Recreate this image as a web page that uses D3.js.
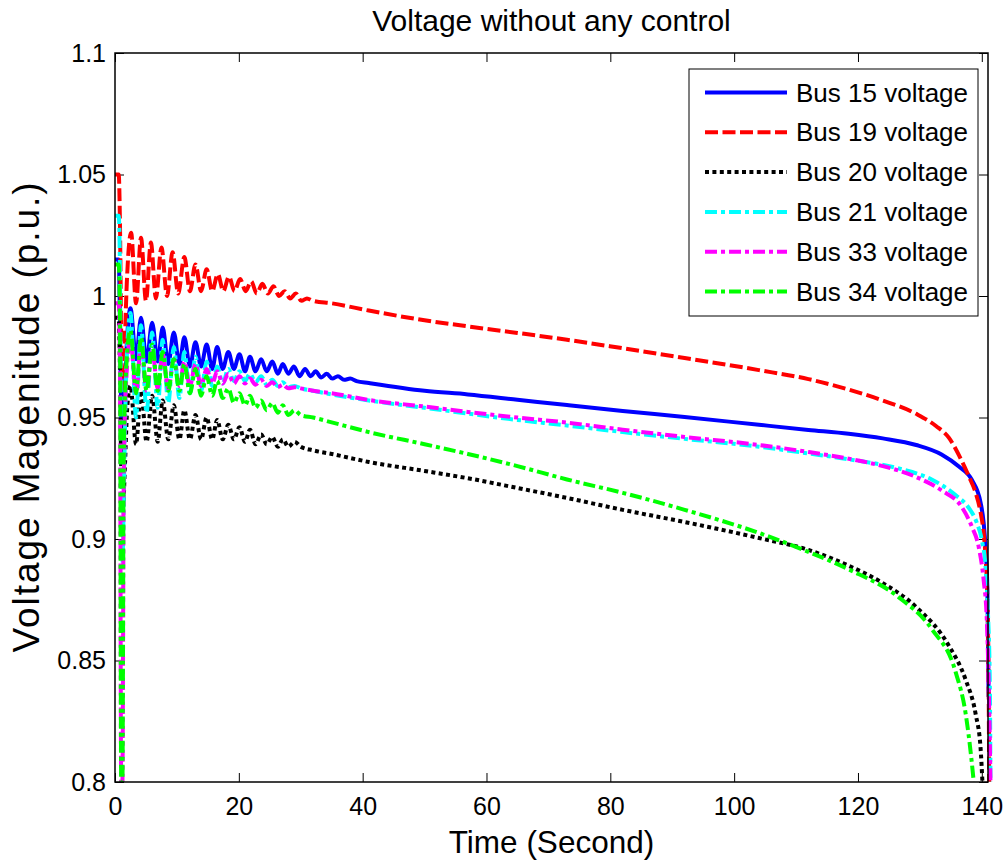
<!DOCTYPE html>
<html>
<head>
<meta charset="utf-8">
<script src="https://cdnjs.cloudflare.com/ajax/libs/d3/7.8.5/d3.min.js"></script>
<style>
  html, body { margin: 0; padding: 0; background: #ffffff; }
  svg { display: block; }
  text { font-family: "Liberation Sans", Arial, sans-serif; fill: #000; }
</style>
</head>
<body>
<div id="chart"></div>
<script>
// ---------------- DATA ----------------
const chartTitle = "Voltage without any control";
const xLabel = "Time (Second)";
const yLabel = "Voltage Magenitude (p.u.)";

const xTicks = [0, 20, 40, 60, 80, 100, 120, 140];
const xTickLabels = ["0", "20", "40", "60", "80", "100", "120", "140"];
const yTicks = [0.8, 0.85, 0.9, 0.95, 1, 1.05, 1.1];
const yTickLabels = ["0.8", "0.85", "0.9", "0.95", "1", "1.05", "1.1"];

const seriesNames = ["Bus 15 voltage", "Bus 19 voltage", "Bus 20 voltage",
                     "Bus 21 voltage", "Bus 33 voltage", "Bus 34 voltage"];

// [time (s), voltage (p.u.)]
const bus15 = [[0,1.015],[0.6,1.015],[0.8,0.99],[1.0,0.95],[1.2,0.935],[1.5,0.955],[1.9,0.980],
  [2.5,0.995],[3.4,0.974],[4.2,0.991],[5.1,0.973],[6.0,0.989],[6.9,0.973],[7.7,0.987],[8.6,0.972],
  [9.5,0.985],[10.4,0.972],[11.2,0.983],[12.1,0.971],[13.0,0.981],[13.9,0.971],[14.8,0.980],[15.7,0.970],
  [16.5,0.979],[17.4,0.970],[18.3,0.977],[19.2,0.970],[20.1,0.976],[21.0,0.969],[21.8,0.975],[22.7,0.969],
  [23.6,0.974],[24.5,0.969],[25.4,0.973],[26.3,0.968],[27.1,0.972],[28.0,0.968],[28.9,0.971],[29.8,0.967],
  [30.7,0.970],[31.6,0.967],[32.4,0.969],[33.3,0.9665],[34.2,0.968],[35.1,0.966],[36.0,0.967],[37.0,0.9655],
  [38,0.966],[39,0.965],[41,0.9642],[50,0.961],[57,0.9595],[65,0.9573],[73,0.9551],[82,0.9527],[92,0.9502],
  [104,0.947],[112,0.9449],[118.5,0.9433],[124,0.9414],[129.4,0.9387],[133.5,0.9348],[136.3,0.9298],
  [138.4,0.9243],[139.8,0.915],[140.3,0.9066],[140.6,0.8967],[140.9,0.879],[141.0,0.858],[141.1,0.835]];

const bus19 = [[0,1.050],[0.6,1.050],[0.8,1.030],[1.0,0.985],[1.2,0.962],[1.5,0.975],[1.9,1.005],
  [2.6,1.026],[3.4,0.997],[4.2,1.024],[5.0,0.998],[5.8,1.022],[6.6,0.999],[7.5,1.020],[8.4,1.000],
  [9.3,1.018],[10.2,1.001],[11.2,1.016],[12.1,1.002],[13.0,1.013],[13.9,1.002],[14.8,1.011],[15.7,1.002],
  [16.6,1.009],[17.5,1.002],[18.4,1.008],[19.3,1.002],[20.2,1.007],[21.1,1.002],[22.0,1.006],[22.9,1.001],
  [23.8,1.005],[24.7,1.001],[25.6,1.004],[26.5,1.000],[27.4,1.002],[28.3,0.999],[29.2,1.001],[30.1,0.998],
  [31.0,0.999],[32,0.998],[35,0.997],[41,0.994],[50,0.990],[57,0.9875],[65,0.9848],[73,0.982],[82,0.9785],
  [92,0.9745],[104,0.9695],[112,0.9658],[118.5,0.9615],[124,0.957],[129.4,0.9515],[132.6,0.9465],[134.7,0.9416],
  [136.3,0.9345],[137.9,0.9258],[139,0.919],[139.8,0.911],[140.3,0.9025],[140.6,0.893],[140.9,0.876],
  [141.1,0.84],[141.2,0.80]];

const bus20 = [[0,0.991],[0.6,0.991],[0.8,0.97],[1.0,0.93],[1.3,0.913],[1.6,0.93],[2.0,0.955],
  [2.5,0.963],[3.4,0.939],[4.2,0.961],[5.1,0.940],[6.0,0.959],[6.9,0.940],[7.7,0.957],[8.6,0.941],
  [9.5,0.955],[10.4,0.941],[11.2,0.953],[12.1,0.941],[13.0,0.951],[13.9,0.941],[14.8,0.950],[15.7,0.941],
  [16.5,0.949],[17.4,0.941],[18.3,0.947],[19.2,0.941],[20.1,0.946],[21.0,0.940],[21.8,0.945],[22.7,0.939],
  [23.6,0.943],[24.5,0.939],[25.4,0.942],[26.3,0.938],[27.1,0.941],[28.0,0.938],[29.0,0.940],[30,0.938],
  [32,0.9365],[35,0.935],[41,0.9317],[50,0.928],[57,0.925],[65,0.921],[73,0.9169],[82,0.912],[92,0.907],
  [104,0.9004],[112,0.8955],[118.5,0.889],[123.9,0.882],[129.4,0.872],[134.7,0.856],[137.4,0.842],
  [139,0.828],[139.8,0.814],[140.1,0.80]];

const bus21 = [[0,1.033],[0.6,1.033],[0.8,1.01],[1.0,0.93],[1.2,0.890],[1.5,0.93],[1.9,0.975],
  [2.5,0.993],[3.4,0.950],[4.2,0.988],[5.1,0.952],[6.0,0.985],[6.9,0.954],[7.7,0.982],[8.6,0.956],
  [9.5,0.979],[10.4,0.958],[11.2,0.977],[12.1,0.960],[13.0,0.975],[13.9,0.961],[14.8,0.973],[15.7,0.963],
  [16.5,0.971],[17.4,0.964],[18.3,0.970],[19.2,0.965],[20.1,0.969],[21.0,0.965],[21.8,0.968],[22.7,0.9645],
  [23.6,0.967],[24.5,0.9635],[25.4,0.9655],[26.3,0.963],[27.1,0.9645],[28.0,0.9625],[29.0,0.963],[30,0.962],
  [32,0.961],[35,0.9595],[41,0.957],[50,0.954],[57,0.9516],[65,0.949],[73,0.9467],[82,0.944],[92,0.9412],
  [104,0.938],[112,0.9352],[118.5,0.9328],[126.6,0.929],[131.9,0.9245],[135.8,0.918],[137.9,0.9128],
  [139.2,0.9066],[140,0.8996],[140.6,0.8885],[141.0,0.869],[141.3,0.84],[141.4,0.80]];

const bus33 = [[0,0.997],[0.6,0.997],[0.8,0.97],[1.0,0.80],[1.2,0.80],[1.4,0.92],[1.8,0.965],
  [2.5,0.982],[3.4,0.960],[4.2,0.980],[5.1,0.961],[6.0,0.978],[6.9,0.962],[7.7,0.976],[8.6,0.962],
  [9.5,0.974],[10.4,0.963],[11.2,0.973],[12.1,0.963],[13.0,0.972],[13.9,0.963],[14.8,0.970],[15.7,0.964],
  [16.5,0.969],[17.4,0.964],[18.3,0.968],[19.2,0.964],[20.1,0.967],[21.0,0.964],[21.8,0.966],[22.7,0.9635],
  [23.6,0.9655],[24.5,0.963],[25.4,0.9645],[26.3,0.9625],[27.1,0.9635],[28.0,0.962],[29,0.9625],[30,0.962],
  [32,0.961],[35,0.960],[41,0.9572],[50,0.9545],[57,0.9523],[65,0.950],[73,0.9479],[82,0.945],[92,0.942],
  [104,0.9387],[112,0.9358],[118.5,0.933],[124,0.930],[129.4,0.9255],[133.5,0.920],[136.8,0.913],
  [138.4,0.905],[139.5,0.8967],[140.3,0.883],[140.8,0.867],[141.2,0.83],[141.4,0.80]];

const bus34 = [[0,1.013],[0.6,1.013],[0.8,0.99],[1.0,0.80],[1.2,0.80],[1.4,0.93],[1.8,0.970],
  [2.5,0.986],[3.4,0.960],[4.2,0.983],[5.1,0.961],[6.0,0.980],[6.9,0.961],[7.7,0.977],[8.6,0.961],
  [9.5,0.974],[10.4,0.961],[11.2,0.972],[12.1,0.960],[13.0,0.970],[13.9,0.959],[14.8,0.967],[15.7,0.959],
  [16.5,0.965],[17.4,0.958],[18.3,0.962],[19.2,0.956],[20.1,0.960],[21.0,0.955],[21.8,0.959],[22.7,0.954],
  [23.6,0.957],[24.5,0.953],[25.4,0.956],[26.3,0.952],[27.1,0.955],[28.0,0.951],[29.0,0.953],[30,0.951],
  [32,0.950],[35,0.948],[41,0.944],[50,0.939],[57,0.935],[65,0.930],[73,0.9245],[82,0.919],[92,0.912],
  [104,0.9025],[112,0.8947],[118.5,0.8875],[126.6,0.876],[131.9,0.863],[135.8,0.845],[137.4,0.828],
  [138.3,0.81],[138.7,0.80]];

const seriesData = [bus15, bus19, bus20, bus21, bus33, bus34];

// ---------------- STYLE ----------------
const seriesStyles = [
  { color: "#0000ff", dash: null },
  { color: "#ff0000", dash: "13,4.5" },
  { color: "#000000", dash: "4,3.4" },
  { color: "#00ffff", dash: "12,4,4,4" },
  { color: "#ff00ff", dash: "12,4,4,4" },
  { color: "#00ff00", dash: "12,4,4,4" }
];

const W = 1008, H = 865;
const margin = { left: 115, right: W - 988, top: 53, bottom: H - 782 };
const plotW = W - margin.left - margin.right;
const plotH = H - margin.top - margin.bottom;

const svg = d3.select("#chart").append("svg")
  .attr("width", W).attr("height", H)
  .attr("viewBox", `0 0 ${W} ${H}`);

svg.append("rect").attr("width", W).attr("height", H).attr("fill", "#fff");

const g = svg.append("g").attr("transform", `translate(${margin.left},${margin.top})`);

const x = d3.scaleLinear().domain([0, 141]).range([0, plotW]);
const y = d3.scaleLinear().domain([0.8, 1.1]).range([plotH, 0]);

// clip (allow slight overshoot on the right like the reference)
svg.append("defs").append("clipPath").attr("id", "plotClip")
  .append("rect").attr("x", 0).attr("y", 0).attr("width", plotW + 8).attr("height", plotH);

// axes ticks
const tickLen = 9;
const fontTick = 25;

const xAxis = d3.axisBottom(x).tickValues(xTicks)
  .tickFormat((d, i) => xTickLabels[i]).tickSize(-tickLen).tickPadding(15);
const xAxisTop = d3.axisTop(x).tickValues(xTicks).tickFormat("").tickSize(-tickLen);
const yAxis = d3.axisLeft(y).tickValues(yTicks)
  .tickFormat((d, i) => yTickLabels[i]).tickSize(-tickLen).tickPadding(9);
const yAxisRight = d3.axisRight(y).tickValues(yTicks).tickFormat("").tickSize(-tickLen);

function styleAxis(sel) {
  sel.select(".domain").remove();
  sel.selectAll(".tick line").attr("stroke", "#000").attr("stroke-width", 1);
  sel.selectAll(".tick text").style("font-size", fontTick + "px")
    .style("font-family", '"Liberation Sans", Arial, sans-serif').attr("fill", "#000");
}

g.append("g").attr("transform", `translate(0,${plotH})`).call(xAxis).call(styleAxis);
g.append("g").call(xAxisTop).call(styleAxis);
g.append("g").call(yAxis).call(styleAxis);
g.append("g").attr("transform", `translate(${plotW},0)`).call(yAxisRight).call(styleAxis);

// lines
const line = d3.line()
  .x(d => x(d[0]))
  .y(d => y(d[1]))
  .curve(d3.curveMonotoneX);

const linesG = g.append("g").attr("clip-path", "url(#plotClip)");
seriesData.forEach((data, i) => {
  const st = seriesStyles[i];
  linesG.append("path")
    .datum(data)
    .attr("d", line)
    .attr("fill", "none")
    .attr("stroke", st.color)
    .attr("stroke-width", 4)
    .attr("stroke-linejoin", "round")
    .attr("stroke-dasharray", st.dash);
});

// box
g.append("rect").attr("x", 0).attr("y", 0).attr("width", plotW).attr("height", plotH)
  .attr("fill", "none").attr("stroke", "#000").attr("stroke-width", 1.5);

// title and labels
svg.append("text").attr("x", margin.left + plotW / 2).attr("y", 31)
  .attr("text-anchor", "middle").style("font-size", "30px").text(chartTitle);

svg.append("text").attr("x", margin.left + plotW / 2).attr("y", 853)
  .attr("text-anchor", "middle").style("font-size", "31.5px").text(xLabel);

svg.append("text")
  .attr("transform", `translate(39,${margin.top + plotH / 2}) rotate(-90)`)
  .attr("text-anchor", "middle").style("font-size", "37px")
  .attr("textLength", 470).attr("lengthAdjust", "spacing")
  .text(yLabel);

// legend
const legend = svg.append("g");
legend.append("rect").attr("x", 689).attr("y", 69).attr("width", 289).attr("height", 247)
  .attr("fill", "#fff").attr("stroke", "#000").attr("stroke-width", 1);

seriesNames.forEach((name, i) => {
  const ly = 92.5 + i * 39.8;
  const st = seriesStyles[i];
  legend.append("line").attr("x1", 705).attr("x2", 787).attr("y1", ly).attr("y2", ly)
    .attr("stroke", st.color).attr("stroke-width", 4).attr("stroke-dasharray", st.dash);
  legend.append("text").attr("x", 796).attr("y", ly).attr("dy", "0.35em")
    .style("font-size", "26px").text(name);
});
</script>
</body>
</html>
